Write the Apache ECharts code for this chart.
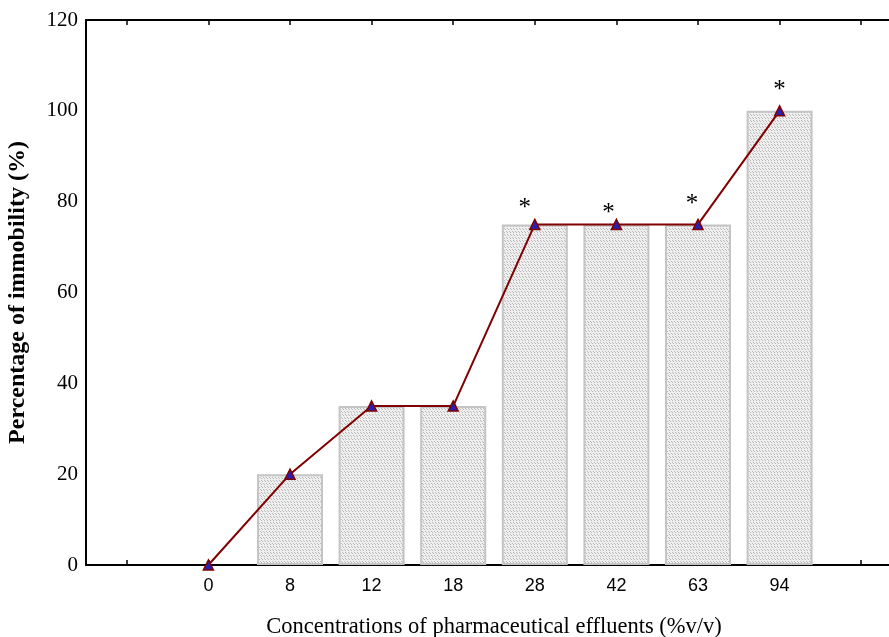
<!DOCTYPE html>
<html>
<head>
<meta charset="utf-8">
<script src="https://cdn.jsdelivr.net/npm/echarts@6/dist/echarts.min.js"></script>
<style>html,body{margin:0;padding:0;background:#fff}#c{width:889px;height:637px}</style>
</head>
<body>
<div id="c"></div>
<script>
var categories = ['', '0', '8', '12', '18', '28', '42', '63', '94', ''];
var barValues = ['-', 0, 20, 35, 35, 75, 75, 75, 100, '-'];
var lineValues = ['-', 0, 20, 35, 35, 75, 75, 75, 100, '-'];
var significance = ['', '', '', '', '', '*', '*', '*', '*', ''];
var yTicks = [0, 20, 40, 60, 80, 100, 120];

// speckled pattern for bars
var pc = document.createElement('canvas');
pc.width = 6; pc.height = 6;
var g = pc.getContext('2d');
g.fillStyle = '#efefef'; g.fillRect(0, 0, 6, 6);
g.fillStyle = '#b8b8b8';
[[0,0],[1,1],[3,0],[4,1],[2,3],[3,4],[5,3],[0,4]].forEach(function(p){ g.fillRect(p[0], p[1], 1, 1); });

var labelOffsets = [[0,0],[0,0],[0,0],[0,0],[0,0],[-10,6],[-8,11],[-6,2],[0,2],[0,0]];

var chart = echarts.init(document.getElementById('c'), null, {renderer: 'canvas'});
chart.setOption({
  animation: false,
  backgroundColor: '#fff',
  grid: {left: 86, top: 20, height: 545, width: 816, containLabel: false, outerBoundsMode: 'none'},
  xAxis: [{
    type: 'category', data: categories, position: 'bottom',
    axisLine: {lineStyle: {color: '#000', width: 2}},
    axisTick: {show: true, alignWithLabel: true, inside: true, length: 5, lineStyle: {color: '#000', width: 1.5}},
    axisLabel: {fontFamily: 'Liberation Sans', fontSize: 18, color: '#000', margin: 12},
    name: 'Concentrations of pharmaceutical effluents (%v/v)',
    nameLocation: 'middle', nameGap: 51,
    nameTextStyle: {fontFamily: 'Liberation Serif', fontSize: 22.5, color: '#000'},
    splitLine: {show: false}
  }, {
    type: 'category', data: categories, position: 'top',
    axisLine: {lineStyle: {color: '#000', width: 2}},
    axisTick: {show: true, alignWithLabel: true, inside: true, length: 5, lineStyle: {color: '#000', width: 1.5}},
    axisLabel: {show: false}
  }],
  yAxis: {
    type: 'value', min: 0, max: 120, interval: 20,
    axisLine: {show: true, lineStyle: {color: '#000', width: 2}},
    axisTick: {show: false},
    axisLabel: {fontFamily: 'Liberation Serif', fontSize: 21, color: '#000', margin: 8},
    splitLine: {show: false},
    name: 'Percentage of immobility (%)',
    nameLocation: 'middle', nameGap: 56,
    nameTextStyle: {fontFamily: 'Liberation Serif', fontSize: 24, fontWeight: 'bold', color: '#000'}
  },
  series: [{
    type: 'bar', xAxisIndex: 0, barWidth: 66,
    data: barValues.map(function(v){
      return {value: v, itemStyle: v === 0 ? {borderWidth: 0} : {}};
    }),
    itemStyle: {color: {image: pc, repeat: 'repeat'}, borderColor: '#c4c4c4', borderWidth: 2},
    silent: true, z: 1
  }, {
    type: 'line', xAxisIndex: 0,
    data: lineValues.map(function(v, i){
      return {value: v, label: {show: significance[i] !== '', formatter: significance[i], offset: labelOffsets[i]}};
    }),
    lineStyle: {color: '#800000', width: 2},
    symbol: 'triangle', symbolSize: 10,
    itemStyle: {color: '#2a1fb0', borderColor: '#800000', borderWidth: 1.5},
    label: {position: 'top', distance: 4, fontFamily: 'Liberation Serif', fontSize: 25, color: '#000'},
    z: 3
  }]
});
</script>
</body>
</html>
